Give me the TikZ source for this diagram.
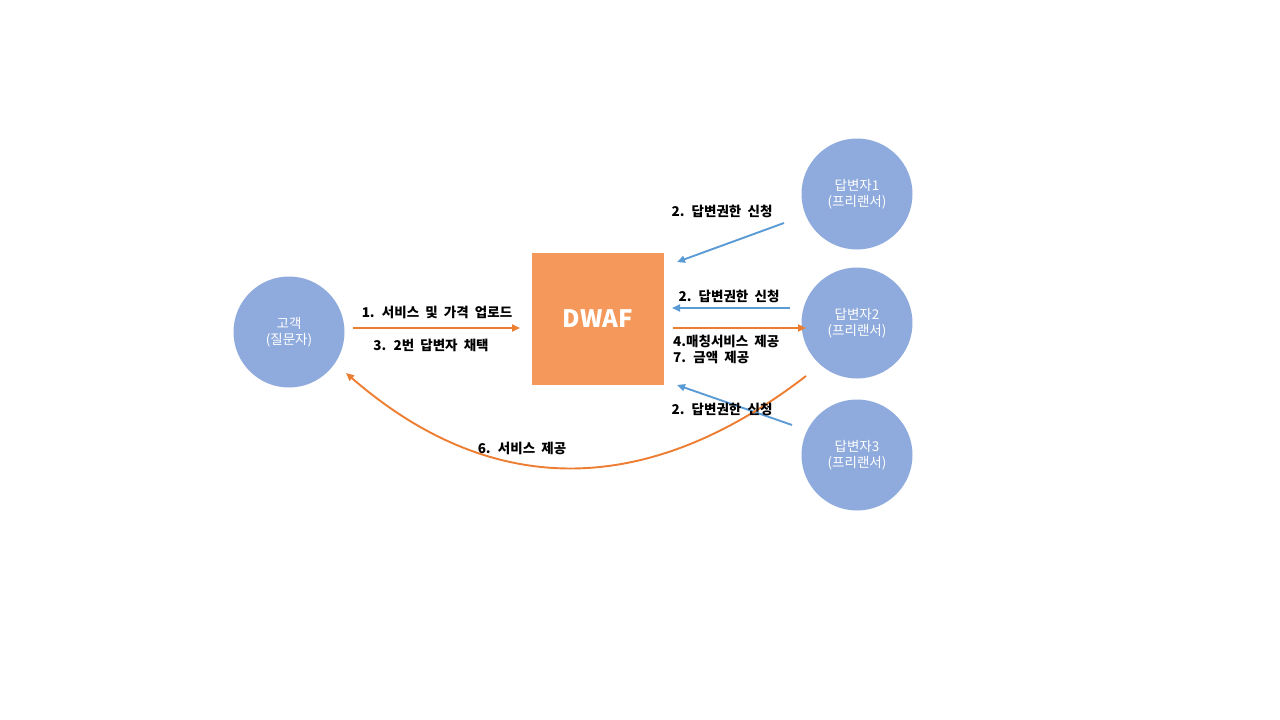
\documentclass[tikz,border=0pt]{standalone}
\usepackage{fontspec}
\usepackage{tikz}
\usetikzlibrary{arrows.meta}
\newfontfamily\krfont{Noto Sans CJK KR}
\newfontfamily\krlabel{Noto Sans CJK KR}[WordSpace=2]
\definecolor{nodeblue}{HTML}{8FAADC}
\definecolor{boxorange}{HTML}{F4995B}
\definecolor{lineorange}{HTML}{ED7D31}
\definecolor{lineblue}{HTML}{5B9BD5}
\begin{document}
\begin{tikzpicture}[x=1pt,y=-1pt,
            person/.style={circle,fill=nodeblue,minimum size=111pt,inner sep=0pt,
              text=white,align=center,font=\krfont\fontsize{13.5}{16.5}\selectfont},
            lbl/.style={inner sep=0pt,font=\krlabel\bfseries\fontsize{13.5}{15}\selectfont},
            toarrow/.style={lineorange,line width=1.9pt,-{Triangle[length=8pt,width=7pt]}},
            backarrow/.style={lineblue,line width=1.9pt,-{Triangle[length=8pt,width=7pt]}}]
            \useasboundingbox (0,0) rectangle (1280,720);
            % nodes
            \node [person] (cust) at (289,332) {고객\\(질문자)};
            \node [fill=boxorange,minimum size=132pt,inner sep=0pt,text=white,
              font=\krfont\bfseries\fontsize{24}{28}\selectfont] (dwaf) at (598,319) {DWAF};
            \node [person] (ans1) at (857,194) {답변자1\\(프리랜서)};
            \node [person] (ans2) at (857,323) {답변자2\\(프리랜서)};
            \node [person] (ans3) at (857,455) {답변자3\\(프리랜서)};
            % arrow ends
            \coordinate (upS) at (353,328);
            \coordinate (upE) at (520,328);
            \coordinate (a1S) at (784,223);
            \coordinate (a1E) at (677,262);
            \coordinate (a2S) at (790,308);
            \coordinate (a2E) at (672,308);
            \coordinate (mtS) at (673,328);
            \coordinate (mtE) at (806,328);
            \coordinate (a3S) at (792,425);
            \coordinate (a3E) at (677,385);
            \coordinate (svS) at (806,376);
            \coordinate (svE) at (346,373);
            % connectors
            \draw [toarrow] (upS) -- (upE);
            \draw [backarrow] (a1S) -- (a1E);
            \draw [backarrow] (a2S) -- (a2E);
            \draw [toarrow] (mtS) -- (mtE);
            \draw [backarrow] (a3S) -- (a3E);
            \draw [toarrow] (svS) .. controls (645,500) and (490,498) .. (svE);
            % labels
            \node [lbl] (upL) at (437,312) {1. 서비스 및 가격 업로드};
            \node [lbl] (pickL) at (431,345) {3. 2번 답변자 채택};
            \node [lbl] (a1L) at (722,211) {2. 답변권한 신청};
            \node [lbl] (a2L) at (729,296) {2. 답변권한 신청};
            \node [lbl,anchor=west] (mtL) at (673,341) {4.매칭서비스 제공};
            \node [lbl,anchor=west] (payL) at (673,357) {7. 금액 제공};
            \node [lbl] (a3L) at (722,409) {2. 답변권한 신청};
            \node [lbl] (svL) at (522,448) {6. 서비스 제공};
\end{tikzpicture}
\end{document}
